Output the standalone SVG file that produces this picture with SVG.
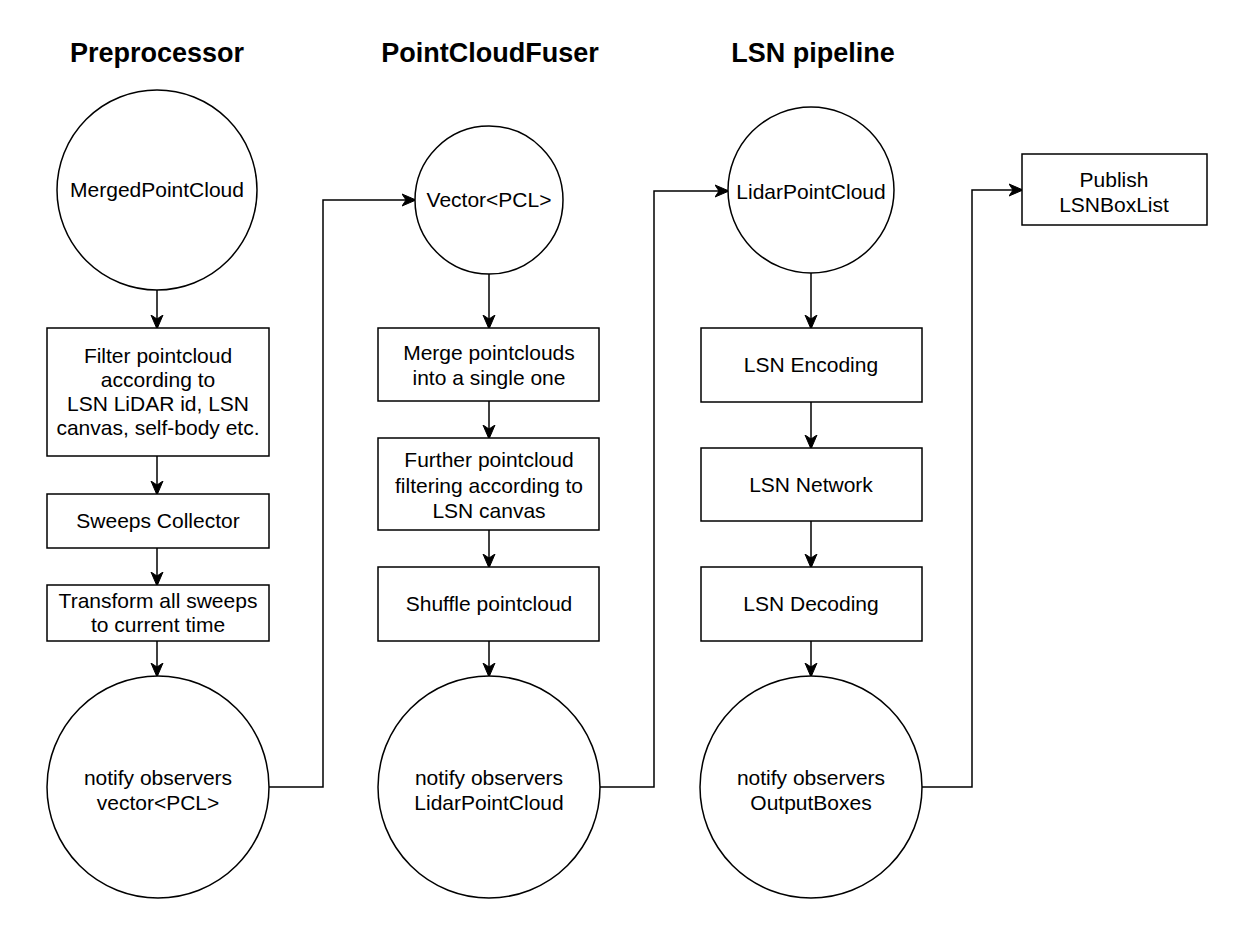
<svg xmlns="http://www.w3.org/2000/svg" width="1250" height="930" viewBox="0 0 1250 930">
<style>
  .shape { fill: #ffffff; stroke: #000000; stroke-width: 1.5; }
  .lbl { font-family: "Liberation Sans", Arial, Helvetica, sans-serif; font-size: 21px; fill: #000000; text-anchor: middle; }
  .title { font-family: "Liberation Sans", Arial, Helvetica, sans-serif; font-size: 27px; font-weight: bold; fill: #000000; text-anchor: middle; }
  .conn { fill: none; stroke: #000000; stroke-width: 1.5; }
</style>
<defs>
  <marker id="arr" viewBox="0 0 14 14" refX="13" refY="7" markerWidth="14" markerHeight="14" markerUnits="userSpaceOnUse" orient="auto">
    <path d="M0,1 L14,7 L0,13 L4,7 z" fill="#000000" stroke="#000000" stroke-width="1"/>
  </marker>
</defs>
<rect width="1250" height="930" fill="#ffffff"/>

<g id="titles">
  <text class="title" x="157" y="62">Preprocessor</text>
  <text class="title" x="490" y="62">PointCloudFuser</text>
  <text class="title" x="813" y="62">LSN pipeline</text>
</g>

<g id="connectors">
  <line class="conn" x1="157" y1="290" x2="157" y2="328" marker-end="url(#arr)"/>
  <line class="conn" x1="157" y1="456" x2="157" y2="494" marker-end="url(#arr)"/>
  <line class="conn" x1="157" y1="548" x2="157" y2="585" marker-end="url(#arr)"/>
  <line class="conn" x1="157" y1="641" x2="157" y2="676" marker-end="url(#arr)"/>
  <line class="conn" x1="489" y1="274" x2="489" y2="328" marker-end="url(#arr)"/>
  <line class="conn" x1="489" y1="401" x2="489" y2="438" marker-end="url(#arr)"/>
  <line class="conn" x1="489" y1="530" x2="489" y2="567" marker-end="url(#arr)"/>
  <line class="conn" x1="489" y1="641" x2="489" y2="676" marker-end="url(#arr)"/>
  <line class="conn" x1="811" y1="273" x2="811" y2="328" marker-end="url(#arr)"/>
  <line class="conn" x1="811" y1="402" x2="811" y2="448" marker-end="url(#arr)"/>
  <line class="conn" x1="811" y1="521" x2="811" y2="567" marker-end="url(#arr)"/>
  <line class="conn" x1="811" y1="641" x2="811" y2="676" marker-end="url(#arr)"/>
  <polyline class="conn" points="269,787 323,787 323,200 415,200" marker-end="url(#arr)"/>
  <polyline class="conn" points="600,787 654,787 654,191 728,191" marker-end="url(#arr)"/>
  <polyline class="conn" points="922,787 972,787 972,190 1022,190" marker-end="url(#arr)"/>
</g>

<g id="merged-point-cloud">
  <circle class="shape" cx="157" cy="190" r="100"/>
  <text class="lbl" x="157" y="197">MergedPointCloud</text>
</g>
<g id="filter-pointcloud">
  <rect class="shape" x="47" y="328" width="222" height="128"/>
  <text class="lbl" x="158" y="363">Filter pointcloud</text>
  <text class="lbl" x="158" y="387">according to</text>
  <text class="lbl" x="158" y="411">LSN LiDAR id, LSN</text>
  <text class="lbl" x="158" y="435">canvas, self-body etc.</text>
</g>
<g id="sweeps-collector">
  <rect class="shape" x="47" y="494" width="222" height="54"/>
  <text class="lbl" x="158" y="528">Sweeps Collector</text>
</g>
<g id="transform-sweeps">
  <rect class="shape" x="47" y="585" width="222" height="56"/>
  <text class="lbl" x="158" y="608">Transform all sweeps</text>
  <text class="lbl" x="158" y="632">to current time</text>
</g>
<g id="notify-vector-pcl">
  <circle class="shape" cx="158" cy="787" r="111"/>
  <text class="lbl" x="158" y="785">notify observers</text>
  <text class="lbl" x="158" y="810">vector&lt;PCL&gt;</text>
</g>

<g id="vector-pcl">
  <circle class="shape" cx="489" cy="200" r="74"/>
  <text class="lbl" x="489" y="207">Vector&lt;PCL&gt;</text>
</g>
<g id="merge-pointclouds">
  <rect class="shape" x="378" y="328" width="221" height="73"/>
  <text class="lbl" x="489" y="360">Merge pointclouds</text>
  <text class="lbl" x="489" y="385">into a single one</text>
</g>
<g id="further-filtering">
  <rect class="shape" x="378" y="438" width="221" height="92"/>
  <text class="lbl" x="489" y="467">Further pointcloud</text>
  <text class="lbl" x="489" y="493">filtering according to</text>
  <text class="lbl" x="489" y="518">LSN canvas</text>
</g>
<g id="shuffle-pointcloud">
  <rect class="shape" x="378" y="567" width="221" height="74"/>
  <text class="lbl" x="489" y="611">Shuffle pointcloud</text>
</g>
<g id="notify-lidar-point-cloud">
  <circle class="shape" cx="489" cy="787" r="111"/>
  <text class="lbl" x="489" y="785">notify observers</text>
  <text class="lbl" x="489" y="810">LidarPointCloud</text>
</g>

<g id="lidar-point-cloud">
  <circle class="shape" cx="811" cy="190" r="83"/>
  <text class="lbl" x="811" y="199">LidarPointCloud</text>
</g>
<g id="lsn-encoding">
  <rect class="shape" x="701" y="328" width="221" height="74"/>
  <text class="lbl" x="811" y="372">LSN Encoding</text>
</g>
<g id="lsn-network">
  <rect class="shape" x="701" y="448" width="221" height="73"/>
  <text class="lbl" x="811" y="492">LSN Network</text>
</g>
<g id="lsn-decoding">
  <rect class="shape" x="701" y="567" width="221" height="74"/>
  <text class="lbl" x="811" y="611">LSN Decoding</text>
</g>
<g id="notify-output-boxes">
  <circle class="shape" cx="811" cy="787" r="111"/>
  <text class="lbl" x="811" y="785">notify observers</text>
  <text class="lbl" x="811" y="810">OutputBoxes</text>
</g>

<g id="publish-lsnboxlist">
  <rect class="shape" x="1022" y="154" width="185" height="71"/>
  <text class="lbl" x="1114" y="187">Publish</text>
  <text class="lbl" x="1114" y="212">LSNBoxList</text>
</g>
</svg>
